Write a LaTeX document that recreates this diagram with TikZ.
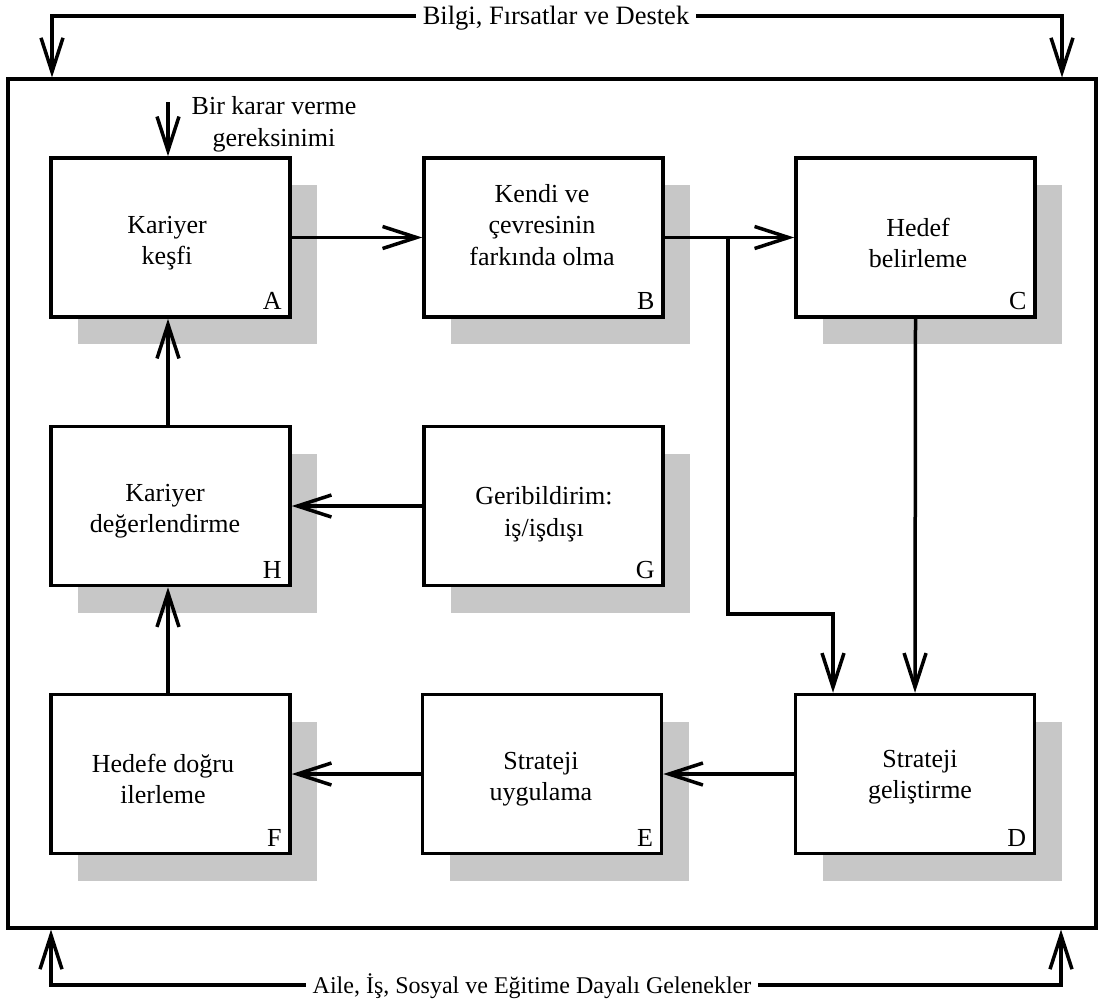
\documentclass[tikz,border=0pt]{standalone}
\usepackage{fontspec}
\setmainfont{Liberation Serif}
\usetikzlibrary{arrows.meta,shadows,calc}
\begin{document}
\begin{tikzpicture}[x=1pt,y=-1pt,
  txt/.style={font=\fontsize{26}{31.5}\selectfont, align=center, inner sep=0pt},
  stepbox/.style={draw, line width=3.5pt, fill=white, minimum width=239pt,
    minimum height=159pt, inner sep=0pt,
    drop shadow={shadow xshift=27pt, shadow yshift=-27pt, fill=black!22, opacity=1}},
  tag/.style={font=\fontsize{26}{31}\selectfont, anchor=base east, inner sep=0pt},
  arr/.style={line width=3.5pt,
    -{Straight Barb[length=34pt,width=22pt,line width=3.5pt,sharp]}},
  frame/.style={draw, line width=3.5pt, inner sep=0pt}
]
\useasboundingbox (0,0) rectangle (1099,1005);

% outer frame
\node[frame, minimum width=1088pt, minimum height=849pt] (frame) at (552,503.5) {};

% process boxes
\node[stepbox] (A) at (170.5,237.5) {};
\node[stepbox] (B) at (543.5,237.5) {};
\node[stepbox] (C) at (915.5,237.5) {};
\node[stepbox] (H) at (170.5,506) {};
\node[stepbox] (G) at (543.5,506) {};
\node[stepbox] (F) at (170.5,774) {};
\node[stepbox] (E) at (542,774) {};
\node[stepbox] (D) at (915,774) {};

% box texts
\node[txt] (At) at (167,243) {Kariyer\\keşfi};
\node[txt] (Bt) at (542,225) {Kendi ve\\çevresinin\\farkında olma};
\node[txt] (Ct) at (918,243) {Hedef\\belirleme};
\node[txt] (Ht) at (165,511) {Kariyer\\değerlendirme};
\node[txt] (Gt) at (544,514) {Geribildirim:\\iş/işdışı};
\node[txt] (Ft) at (163,779) {Hedefe doğru\\ilerleme};
\node[txt] (Et) at (541,779) {Strateji\\uygulama};
\node[txt] (Dt) at (920,777) {Strateji\\geliştirme};

% corner letters
\node[tag] (lA) at ($(A.south east)+(-10,-9)$) {A};
\node[tag] (lB) at ($(B.south east)+(-10,-9)$) {B};
\node[tag] (lC) at ($(C.south east)+(-10,-9)$) {C};
\node[tag] (lH) at ($(H.south east)+(-10,-9)$) {H};
\node[tag] (lG) at ($(G.south east)+(-10,-9)$) {G};
\node[tag] (lF) at ($(F.south east)+(-10,-9)$) {F};
\node[tag] (lE) at ($(E.south east)+(-10,-9)$) {E};
\node[tag] (lD) at ($(D.south east)+(-10,-9)$) {D};

% trigger into A
\node[txt] (need) at (274,124.5) {Bir karar verme\\gereksinimi};
\coordinate (c1) at (168,0);
\coordinate (inA) at (168,102);
\draw[arr] (inA) -- (inA |- A.north);

% main flow
\draw[arr] (A.east) -- (B.west);
\draw[arr] (B.east) -- (C.west);
\coordinate (br) at (728,237.5);
\coordinate (k1) at (728,614);
\coordinate (k2) at (833,614);
\draw[arr] (br) -- (k1) -- (k2) -- (k2 |- D.north);
\draw[arr] (C.south) -- (D.north);
\draw[arr] (D.west) -- (E.east);
\draw[arr] (E.west) -- (F.east);
\draw[arr] (F.north -| c1) -- (H.south -| c1);
\draw[arr] (G.west) -- (H.east);
\draw[arr] (H.north -| c1) -- (A.south -| c1);

% surrounding influences
\node[txt, anchor=base, inner xsep=7pt, font=\fontsize{26.5}{31}\selectfont] (info) at (556,24) {Bilgi, Fırsatlar ve Destek};
\coordinate (tline) at (0,16);
\coordinate (tl) at (52,77.5);
\coordinate (tr) at (1062,77.5);
\draw[arr] (info.west |- tline) -| (tl);
\draw[arr] (info.east |- tline) -| (tr);

\node[txt, anchor=base, inner xsep=7pt, font=\fontsize{24}{31}\selectfont] (trad) at (532,993) {Aile, İş, Sosyal ve Eğitime Dayalı Gelenekler};
\coordinate (bline) at (0,985);
\coordinate (bl) at (51,929.5);
\coordinate (bre) at (1061,929.5);
\draw[arr] (trad.west |- bline) -| (bl);
\draw[arr] (trad.east |- bline) -| (bre);
\end{tikzpicture}
\end{document}
